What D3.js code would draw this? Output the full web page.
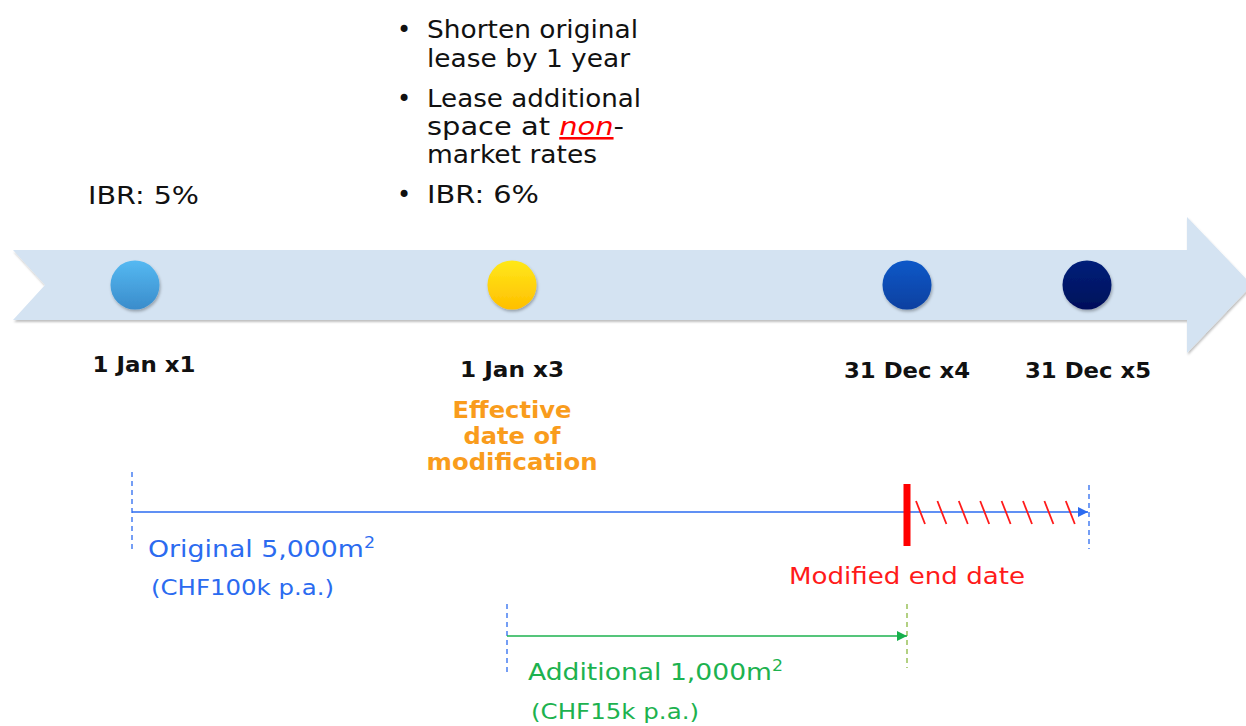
<!DOCTYPE html>
<html><head><meta charset="utf-8">
<script src="https://cdn.jsdelivr.net/npm/d3@7"></script>
<style>
html,body{margin:0;padding:0;background:#fff;}
svg{display:block;font-family:"DejaVu Sans",Verdana,sans-serif;}
</style></head>
<body><svg id="c" width="1246" height="726"></svg>
<script>
// Milestones (years from start of lease)
const milestoneLabels = ["1 Jan x1", "1 Jan x3", "31 Dec x4", "31 Dec x5"];
const milestoneYears = [0, 2, 4, 5];
const milestoneColors = [["#55b9f2", "#3a8ccb"], ["#ffe81a", "#ffbf00"], ["#0a58c8", "#0840a0"], ["#02207a", "#010f5a"]];
// Leases
const leaseNames = ["Original 5,000m", "Additional 1,000m"];
const leaseTerms = ["(CHF100k p.a.)", "(CHF15k p.a.)"];
const leaseStart = [0, 2];
const leaseEnd = [5, 4];
const modifiedEnd = 4;
const ibrStart = "IBR: 5%";
const modBullets = [["Shorten original", "lease by 1 year"], ["Lease additional", "space at |non|-", "market rates"], ["IBR: 6%"]];
const effectiveLines = ["Effective", "date of", "modification"];

const svg = d3.select("#c");
const x = d3.scaleLinear().domain(milestoneYears).range([135, 512, 907, 1087]);

function fit(sel, w) { sel.attr("textLength", w).attr("lengthAdjust", "spacingAndGlyphs"); return sel; }

const defs = svg.append("defs");
const sh = defs.append("filter").attr("id", "sh").attr("x", "-20%").attr("y", "-20%").attr("width", "140%").attr("height", "150%");
sh.append("feDropShadow").attr("dx", 1).attr("dy", 2).attr("stdDeviation", 1.5).attr("flood-color", "#000").attr("flood-opacity", 0.3);
const shb = defs.append("filter").attr("id", "shb").attr("x", "-5%").attr("y", "-10%").attr("width", "110%").attr("height", "130%");
shb.append("feDropShadow").attr("dx", 1).attr("dy", 2).attr("stdDeviation", 1.2).attr("flood-color", "#000").attr("flood-opacity", 0.25);
milestoneColors.forEach((c, i) => {
  const g = defs.append("linearGradient").attr("id", "g" + i).attr("x1", 0).attr("y1", 0).attr("x2", 0).attr("y2", 1);
  g.append("stop").attr("offset", "0%").attr("stop-color", c[0]);
  g.append("stop").attr("offset", "100%").attr("stop-color", c[1]);
});
function marker(id, color) {
  defs.append("marker").attr("id", id).attr("viewBox", "0 0 10 10").attr("refX", 10).attr("refY", 5)
    .attr("markerWidth", 10).attr("markerHeight", 10).attr("markerUnits", "userSpaceOnUse").attr("orient", "auto")
    .append("path").attr("d", "M0,0 L10,5 L0,10 Z").attr("fill", color);
}
marker("mb", "#2b6bf0");
marker("mg", "#16b04c");

// Timeline band arrow
const bandTop = 250, bandBot = 320, yMid = 285;
svg.append("path")
  .attr("d", `M13,${bandTop} L1187,${bandTop} L1187,217 L1252,${yMid} L1187,353 L1187,${bandBot} L13,${bandBot} L45,${yMid} Z`)
  .attr("fill", "#d4e3f2").attr("filter", "url(#shb)");

// Milestone dots
svg.selectAll("circle.m").data(milestoneYears).join("circle")
  .attr("class", "m").attr("cx", d => x(d)).attr("cy", yMid).attr("r", 24.5)
  .attr("fill", (d, i) => `url(#g${i})`).attr("filter", "url(#sh)");

// Milestone labels
const labelDx = [9, 0, 0, 1];
const labelY = [372, 377, 378, 378];
const labelW = [103, 104, 126, 126];
svg.selectAll("text.ml").data(milestoneLabels).join("text")
  .attr("class", "ml").attr("x", (d, i) => x(milestoneYears[i]) + labelDx[i]).attr("y", (d, i) => labelY[i])
  .attr("text-anchor", "middle").attr("font-weight", "bold").attr("font-size", 20.5).attr("fill", "#111")
  .attr("textLength", (d, i) => labelW[i]).attr("lengthAdjust", "spacingAndGlyphs")
  .text(d => d);

// IBR start
fit(svg.append("text").attr("x", 88).attr("y", 204).attr("font-size", 24).attr("fill", "#111").text(ibrStart), 111);

// Modification bullets
const bx = 427;
const lineYs = [[38, 67], [107, 135, 163], [203]];
const lineW = [[211, 203], [214, 197], [170], [112]];
const lineWs = [[211, 203], [214, 197, 170], [112]];
modBullets.forEach((lines, bi) => {
  svg.append("text").attr("x", 397).attr("y", lineYs[bi][0]).attr("font-size", 24).attr("fill", "#111").text("•");
  lines.forEach((ln, li) => {
    const t = svg.append("text").attr("x", bx).attr("y", lineYs[bi][li]).attr("font-size", 25.5).attr("fill", "#111");
    ln.split("|").forEach((part, pi) => {
      const ts = t.append("tspan").text(part);
      if (pi === 1) ts.attr("fill", "#ff0000").attr("font-style", "italic").attr("text-decoration", "underline");
    });
    fit(t, lineWs[bi][li]);
  });
});

// Effective date of modification
const effW = [119, 97, 171];
svg.selectAll("text.eff").data(effectiveLines).join("text")
  .attr("class", "eff").attr("x", x(2)).attr("y", (d, i) => 418 + i * 26)
  .attr("text-anchor", "middle").attr("font-weight", "bold").attr("font-size", 22.5).attr("fill", "#f99c1c")
  .attr("textLength", (d, i) => effW[i]).attr("lengthAdjust", "spacingAndGlyphs")
  .text(d => d);

// Original lease
const yO = 512;
svg.append("line").attr("x1", x(leaseStart[0]) - 3).attr("x2", x(leaseStart[0]) - 3).attr("y1", 472).attr("y2", 552)
  .attr("stroke", "#2b6bf0").attr("stroke-width", 1.3).attr("stroke-dasharray", "5,4");
svg.append("line").attr("x1", x(leaseEnd[0]) + 2).attr("x2", x(leaseEnd[0]) + 2).attr("y1", 485).attr("y2", 549)
  .attr("stroke", "#2b6bf0").attr("stroke-width", 1.3).attr("stroke-dasharray", "5,4");
svg.append("line").attr("x1", x(leaseStart[0]) - 3).attr("x2", x(leaseEnd[0]) + 1).attr("y1", yO).attr("y2", yO)
  .attr("stroke", "#2b6bf0").attr("stroke-width", 1.6).attr("marker-end", "url(#mb)");

// Hatches after modified end
const hatchX = d3.range(8).map(i => x(modifiedEnd) + 9 + i * 21.4);
svg.selectAll("line.h").data(hatchX).join("line").attr("class", "h")
  .attr("x1", d => d).attr("y1", 501).attr("x2", d => d + 9).attr("y2", 524)
  .attr("stroke", "#ff1a1a").attr("stroke-width", 1.8);
svg.append("rect").attr("x", x(modifiedEnd) - 3.5).attr("y", 484).attr("width", 7).attr("height", 62).attr("fill", "#ff0000");

fit(svg.append("text").attr("x", x(modifiedEnd)).attr("y", 584).attr("text-anchor", "middle")
  .attr("font-size", 22.5).attr("fill", "#ff1a1a").text("Modified end date"), 236);

// Lease labels
const leaseColors = ["#2b6bf0", "#1db24f"];
const nameX = [148, 528], nameY = [557, 680], termY = [595, 719];
const nameW = [227, 255], termW = [183, 168];
leaseNames.forEach((n, i) => {
  const t = svg.append("text").attr("x", nameX[i]).attr("y", nameY[i]).attr("font-size", 23).attr("fill", leaseColors[i]);
  t.append("tspan").text(n);
  t.append("tspan").attr("font-size", 15).attr("dy", -9).text("2");
  fit(t, nameW[i]);
  fit(svg.append("text").attr("x", nameX[i] + 3).attr("y", termY[i]).attr("font-size", 21.5).attr("fill", leaseColors[i]).text(leaseTerms[i]), termW[i]);
});

// Additional lease
const yA = 636;
svg.append("line").attr("x1", x(leaseStart[1]) - 5).attr("x2", x(leaseStart[1]) - 5).attr("y1", 604).attr("y2", 674)
  .attr("stroke", "#2b6bf0").attr("stroke-width", 1.3).attr("stroke-dasharray", "5,4");
svg.append("line").attr("x1", x(leaseEnd[1])).attr("x2", x(leaseEnd[1])).attr("y1", 604).attr("y2", 668)
  .attr("stroke", "#8ab840").attr("stroke-width", 1.3).attr("stroke-dasharray", "5,4");
svg.append("line").attr("x1", x(leaseStart[1]) - 5).attr("x2", x(leaseEnd[1])).attr("y1", yA).attr("y2", yA)
  .attr("stroke", "#1db24f").attr("stroke-width", 1.6).attr("marker-end", "url(#mg)");
</script></body></html>
